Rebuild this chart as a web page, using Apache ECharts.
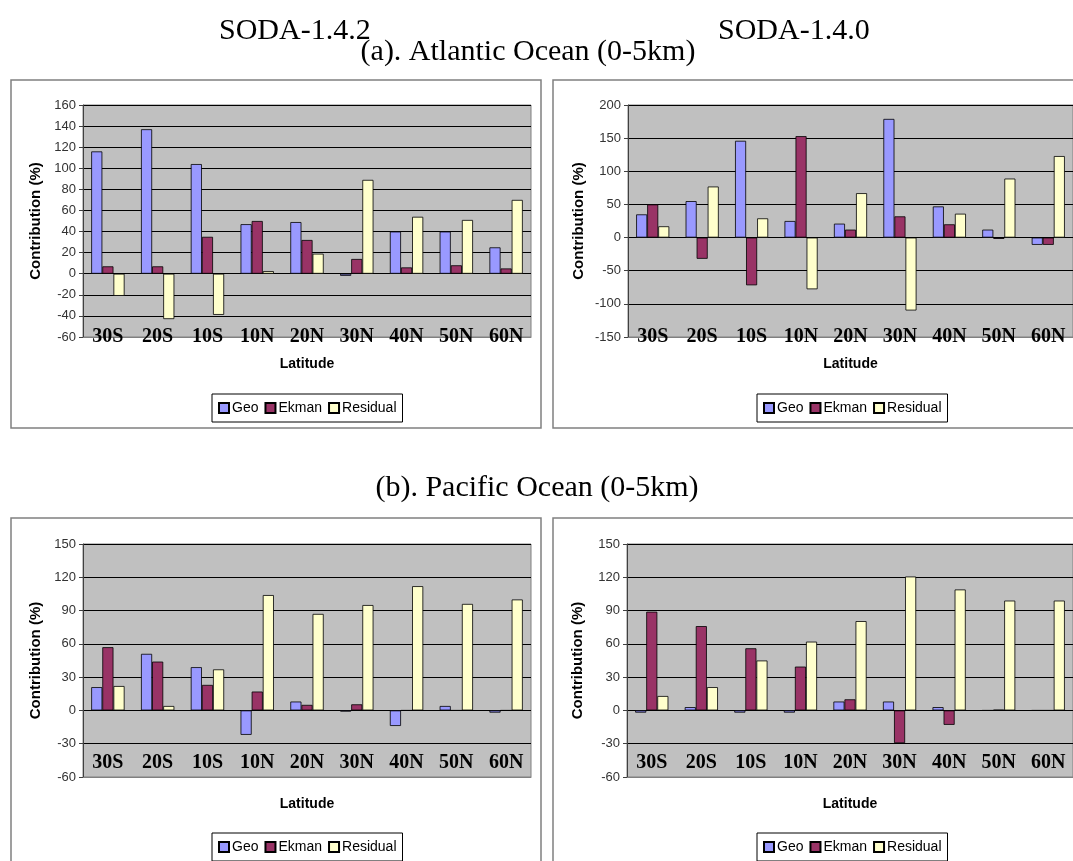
<!DOCTYPE html>
<html>
<head>
<meta charset="utf-8">
<script src="https://cdn.jsdelivr.net/npm/echarts@6/dist/echarts.min.js"></script>
<style>html,body{margin:0;padding:0;background:#fff;}#c{width:1073px;height:861px;}</style>
</head>
<body>
<div id="c"></div>
<script>
const categories = ['30S','20S','10S','10N','20N','30N','40N','50N','60N'];
const seriesNames = ['Geo','Ekman','Residual'];
// Atlantic, SODA-1.4.2
const atl142Geo = [116,137,104,47,49,-2,40,40,25];
const atl142Ekman = [7,7,35,50,32,14,6,8,5];
const atl142Residual = [-21,-43,-39,2.5,19,89,54,51,70];
// Atlantic, SODA-1.4.0
const atl140Geo = [35,55,146,25,21,179,47,12,-11];
const atl140Ekman = [50,-32,-72,153,12,32,20,-2,-11];
const atl140Residual = [17,77,29,-78,67,-110,36,89,123];
// Pacific, SODA-1.4.2
const pac142Geo = [21,51,39,-22,8,-1,-14,4,-2];
const pac142Ekman = [57,44,23,17,5,5.5,0,0,0];
const pac142Residual = [22,4,37,104,87,95,112,96,100];
// Pacific, SODA-1.4.0
const pac140Geo = [-2,3,-2,-2,8,8,3,0,0];
const pac140Ekman = [89,76,56,39.5,10,-29.5,-13,0.6,0];
const pac140Residual = [13,21,45,62,80.5,120.7,109,99,99];
// y-axis ticks
const yTicksA142 = {min:-60,max:160,interval:20};
const yTicksA140 = {min:-150,max:200,interval:50};
const yTicksP = {min:-60,max:150,interval:30};

const colors = ['#9999FF','#993366','#FFFFCC'];
const panels = [
  {grid:{left:83,top:105,width:448,height:232}, y:yTicksA142, data:[atl142Geo,atl142Ekman,atl142Residual], labelOffset:0, legendLeft:212, legendTop:394, nameGapY:40},
  {grid:{left:628,top:105,width:445,height:232}, y:yTicksA140, data:[atl140Geo,atl140Ekman,atl140Residual], labelOffset:0, legendLeft:757, legendTop:394, nameGapY:42},
  {grid:{left:83,top:544,width:448,height:233}, y:yTicksP, data:[pac142Geo,pac142Ekman,pac142Residual], labelOffset:-14, legendLeft:212, legendTop:833, nameGapY:40},
  {grid:{left:627,top:544,width:446,height:233}, y:yTicksP, data:[pac140Geo,pac140Ekman,pac140Residual], labelOffset:-14, legendLeft:757, legendTop:833, nameGapY:42}
];

const grid = [], xAxis = [], yAxis = [], series = [], legend = [];
panels.forEach((p, i) => {
  grid.push(Object.assign({show:true, backgroundColor:'#C0C0C0', borderColor:'#808080', borderWidth:1}, p.grid));
  xAxis.push({
    type:'category', gridIndex:i, data:categories, position:'bottom',
    axisLine:{onZero:false, lineStyle:{color:'#808080'}},
    axisTick:{show:false},
    axisLabel:{interval:0, margin:p.labelOffset, verticalAlign:'middle', fontFamily:'Liberation Serif', fontWeight:'bold', fontSize:20, color:'#000'},
    name:'Latitude', nameLocation:'middle', nameGap:20,
    nameTextStyle:{fontFamily:'Liberation Sans', fontWeight:'bold', fontSize:14, color:'#000'}
  });
  yAxis.push({
    type:'value', gridIndex:i, min:p.y.min, max:p.y.max, interval:p.y.interval,
    axisLine:{show:true, lineStyle:{color:'#404040'}},
    axisTick:{show:true, length:4, lineStyle:{color:'#404040'}},
    axisLabel:{margin:7, fontFamily:'Liberation Sans', fontSize:13, color:'#333'},
    splitLine:{show:true, lineStyle:{color:'#000', width:1}},
    name:'Contribution (%)', nameLocation:'middle', nameGap:p.nameGapY,
    nameTextStyle:{fontFamily:'Liberation Sans', fontWeight:'bold', fontSize:15, color:'#000'}
  });
  p.data.forEach((d, k) => {
    series.push({
      type:'bar', name:seriesNames[k], xAxisIndex:i, yAxisIndex:i, data:d,
      barGap:'0%', barCategoryGap:'33%',
      itemStyle:{color:colors[k], borderColor:'#000', borderWidth:0.8},
      emphasis:{disabled:true}
    });
  });
  legend.push({
    data:seriesNames, left:p.legendLeft, top:p.legendTop, orient:'horizontal',
    icon:'rect', itemWidth:10, itemHeight:10, itemGap:6,
    padding:[7,6,7,6], borderColor:'#000', borderWidth:1, backgroundColor:'#fff',
    textStyle:{fontFamily:'Liberation Sans', fontSize:14, color:'#000', padding:[0,0,0,-2]},
    selectedMode:false
  });
});

const frameStyle = {fill:'none', stroke:'#808080', lineWidth:1.5};
const graphic = [
  {type:'rect', shape:{x:11, y:80, width:530, height:348}, style:frameStyle, z:-1},
  {type:'rect', shape:{x:553, y:80, width:540, height:348}, style:frameStyle, z:-1},
  {type:'rect', shape:{x:11, y:518, width:530, height:360}, style:frameStyle, z:-1},
  {type:'rect', shape:{x:553, y:518, width:540, height:360}, style:frameStyle, z:-1},
  {type:'text', x:219, y:31, style:{text:'SODA-1.4.2', font:'30px "Liberation Serif"', fill:'#000', align:'left', verticalAlign:'middle', textAlign:'left', textVerticalAlign:'middle'}},
  {type:'text', x:718, y:31, style:{text:'SODA-1.4.0', font:'30px "Liberation Serif"', fill:'#000', align:'left', verticalAlign:'middle', textAlign:'left', textVerticalAlign:'middle'}},
  {type:'text', x:528, y:52, style:{text:'(a). Atlantic Ocean (0-5km)', font:'30px "Liberation Serif"', fill:'#000', align:'center', verticalAlign:'middle', textAlign:'center', textVerticalAlign:'middle'}},
  {type:'text', x:537, y:488, style:{text:'(b). Pacific Ocean (0-5km)', font:'30px "Liberation Serif"', fill:'#000', align:'center', verticalAlign:'middle', textAlign:'center', textVerticalAlign:'middle'}}
];

const chart = echarts.init(document.getElementById('c'), null, {renderer:'canvas'});
chart.setOption({
  backgroundColor:'#fff',
  animation:false,
  grid, xAxis, yAxis, series, legend, graphic
});
</script>
</body>
</html>
